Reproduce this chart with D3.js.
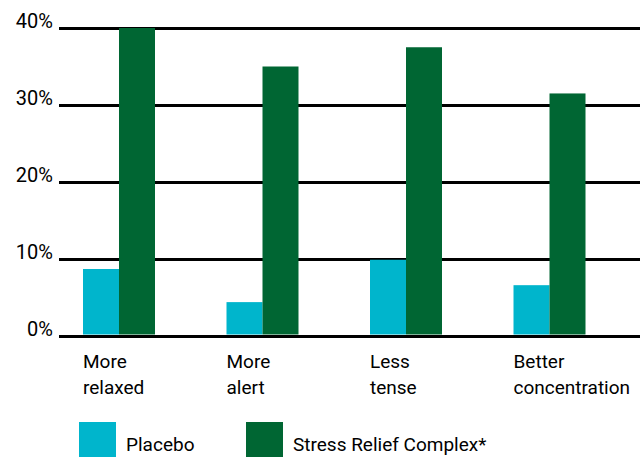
<!DOCTYPE html>
<html>
<head>
<meta charset="utf-8">
<script src="https://cdn.jsdelivr.net/npm/d3@7"></script>
<style>
  html, body { margin: 0; padding: 0; background: #fff; }
  svg { display: block; }
  text { font-family: Roboto, "Liberation Sans", sans-serif; fill: #000; }
</style>
</head>
<body>
<svg id="chart" width="644" height="457"></svg>
<script>
const categories = [["More", "relaxed"], ["More", "alert"], ["Less", "tense"], ["Better", "concentration"]];
const seriesNames = ["Placebo", "Stress Relief Complex*"];
const placebo = [8.7, 4.4, 9.9, 6.6];
const stressRelief = [40, 35, 37.5, 31.5];
const yTicks = [0, 10, 20, 30, 40];
const colors = ["#00B5CC", "#006633"];

const svg = d3.select("#chart");
const catKeys = categories.map(c => c.join(" "));

const x = d3.scaleBand().domain(catKeys).range([83, 585.5]).paddingInner(0.4983).paddingOuter(0).align(0);
const xSub = d3.scaleBand().domain(seriesNames).range([0, x.bandwidth()]).padding(0);
const y = d3.scaleLinear().domain([0, 40]).range([336, 28]);

// gridlines + tick labels
const yAxis = d3.axisLeft(y).tickValues(yTicks).tickSize(-581).tickPadding(6).tickFormat(d => d + "%");
const gy = svg.append("g").attr("transform", "translate(59,0)").call(yAxis);
gy.select(".domain").remove();
gy.selectAll(".tick line").attr("stroke", "#000").attr("stroke-width", 3);
gy.selectAll(".tick text").attr("font-size", 20).attr("dy", "-0.03em").attr("fill", "#000")
  .style("font-family", "Roboto, sans-serif");

// bars
const data = catKeys.map((k, i) => ({ key: k, values: [placebo[i], stressRelief[i]] }));
const groups = svg.append("g").selectAll("g").data(data).join("g")
  .attr("transform", d => `translate(${x(d.key)},0)`);
groups.selectAll("rect").data(d => d.values.map((v, j) => ({ s: seriesNames[j], v, j })))
  .join("rect")
  .attr("x", d => xSub(d.s))
  .attr("width", xSub.bandwidth())
  .attr("y", d => y(d.v))
  .attr("height", d => y(0) - y(d.v) - 1.5)
  .attr("fill", d => colors[d.j]);

// category labels
const labels = svg.append("g").selectAll("text").data(categories).join("text")
  .attr("x", (d, i) => x(catKeys[i]))
  .attr("y", 368)
  .attr("font-size", 19);
labels.selectAll("tspan").data(d => d).join("tspan")
  .attr("x", function() { return d3.select(this.parentNode).attr("x"); })
  .attr("dy", (d, i) => i === 0 ? 0 : 26)
  .text(d => d);

// legend
const legendX = [79, 246];
const leg = svg.append("g").selectAll("g").data(seriesNames).join("g")
  .attr("transform", (d, i) => `translate(${legendX[i]},422)`);
leg.append("rect").attr("width", 37).attr("height", 37).attr("fill", (d, i) => colors[i]);
leg.append("text").attr("x", 47).attr("y", 29).attr("font-size", 19).text(d => d);
</script>
</body>
</html>
